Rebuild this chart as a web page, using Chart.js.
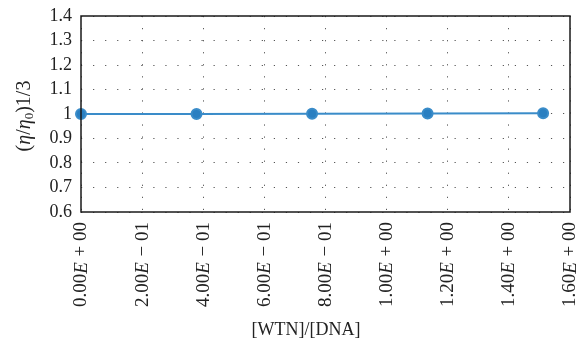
<!DOCTYPE html>
<html>
<head>
<meta charset="utf-8">
<script src="https://cdn.jsdelivr.net/npm/chart.js@4/dist/chart.umd.min.js"></script>
<style>
html,body{margin:0;padding:0;background:#fff;}
#wrap{width:577px;height:349px;}
</style>
</head>
<body>
<div id="wrap"><canvas id="c" width="577" height="349"></canvas></div>
<script>
const ratioValues = [0, 0.378, 0.756, 1.134, 1.512];
const viscosityValues = [1.000, 1.000, 1.001, 1.002, 1.003];
const xTickValues = [0, 0.2, 0.4, 0.6, 0.8, 1.0, 1.2, 1.4, 1.6];
const xTickMantissas = ["0.00","2.00","4.00","6.00","8.00","1.00","1.20","1.40","1.60"];
const xTickExponents = ["+ 00","− 01","− 01","− 01","− 01","+ 00","+ 00","+ 00","+ 00"];
const yTickLabels = ["0.6","0.7","0.8","0.9","1","1.1","1.2","1.3","1.4"];
const xTitle = "[WTN]/[DNA]";
const yTitleParts = ["(", "η", "/", "η", "0", ")1/3"];

const FAM = "'Liberation Serif', 'DejaVu Serif', serif";
const TEXT = '#222';

function drawRuns(ctx, runs, align) {
  let total = 0;
  runs.forEach(r => { ctx.font = r.font; r.w = ctx.measureText(r.t).width + (r.gap || 0); total += r.w; });
  let x = align === 'right' ? -total : (align === 'center' ? -total / 2 : 0);
  runs.forEach(r => { ctx.font = r.font; ctx.fillText(r.t, x + (r.pre || 0), r.dy || 0); x += r.w; });
}

const textPlugin = {
  id: 'customText',
  afterDraw(chart) {
    const a = chart.chartArea, ctx = chart.ctx;
    // plot frame
    ctx.save();
    ctx.strokeStyle = '#1a1a1a';
    ctx.lineWidth = 1.5;
    ctx.strokeRect(a.left, a.top, a.right - a.left, a.bottom - a.top);
    ctx.restore();
    // x tick labels (rotated, italic E)
    const xs = chart.scales.x;
    const reg = "19px " + FAM, ita = "italic 19px " + FAM;
    xTickValues.forEach((v, i) => {
      const px = xs.getPixelForValue(v);
      ctx.save();
      ctx.fillStyle = TEXT;
      ctx.textBaseline = 'middle';
      ctx.translate(px + 0.5, a.bottom + 10);
      ctx.rotate(-Math.PI / 2);
      drawRuns(ctx, [
        {t: xTickMantissas[i], font: reg},
        {t: "E", font: ita, gap: 1},
        {t: " " + xTickExponents[i], font: reg}
      ], 'right');
      ctx.restore();
    });
    // x title
    ctx.save();
    ctx.fillStyle = TEXT;
    ctx.textBaseline = 'middle';
    ctx.translate(306, 330);
    drawRuns(ctx, [{t: xTitle, font: "18px " + FAM}], 'center');
    ctx.restore();
    // y title (rotated, italic eta, subscript 0)
    ctx.save();
    ctx.fillStyle = TEXT;
    ctx.textBaseline = 'middle';
    ctx.translate(25, 116);
    ctx.rotate(-Math.PI / 2);
    const f = "20px " + FAM, fi = "italic 20px " + FAM, fs = "13px " + FAM;
    drawRuns(ctx, [
      {t: yTitleParts[0], font: f},
      {t: yTitleParts[1], font: fi},
      {t: yTitleParts[2], font: f},
      {t: yTitleParts[3], font: fi},
      {t: yTitleParts[4], font: fs, dy: 5},
      {t: yTitleParts[5], font: f}
    ], 'center');
    ctx.restore();
  }
};

new Chart(document.getElementById('c'), {
  type: 'scatter',
  data: {
    datasets: [{
      data: ratioValues.map((x, i) => ({x: x, y: viscosityValues[i]})),
      showLine: true,
      borderColor: '#3a8cc9',
      backgroundColor: '#2a7fc1',
      borderWidth: 2,
      pointRadius: 5,
      pointHoverRadius: 5,
      clip: false
    }]
  },
  options: {
    responsive: false,
    animation: false,
    events: [],
    layout: {padding: {left: 0, right: 6, top: 16, bottom: 0}},
    plugins: {legend: {display: false}, tooltip: {enabled: false}},
    scales: {
      x: {
        type: 'linear', min: 0, max: 1.6,
        afterBuildTicks(s) { s.ticks = xTickValues.map(v => ({value: v})); },
        afterFit(s) { s.height = 137; s.paddingLeft = 0; s.paddingRight = 0; },
        ticks: {display: false, autoSkip: false},
        grid: {color: '#555', lineWidth: 1, drawTicks: false},
        border: {display: false, dash: [1.2, 10.85]},
        title: {display: false}
      },
      y: {
        min: 0.6, max: 1.4,
        afterBuildTicks(s) { s.ticks = yTickLabels.map(t => ({value: parseFloat(t)})); },
        afterFit(s) { s.width = 81; s.paddingTop = 0; s.paddingBottom = 0; },
        ticks: {
          autoSkip: false,
          padding: 9, color: TEXT, font: {family: FAM, size: 18},
          callback: (v) => { const i = yTickLabels.findIndex(t => Math.abs(parseFloat(t) - v) < 1e-9); return i >= 0 ? yTickLabels[i] : ''; }
        },
        grid: {color: '#555', lineWidth: 1, drawTicks: false},
        border: {display: false, dash: [1.2, 10.85]},
        title: {display: false}
      }
    }
  },
  plugins: [textPlugin]
});
</script>
</body>
</html>
